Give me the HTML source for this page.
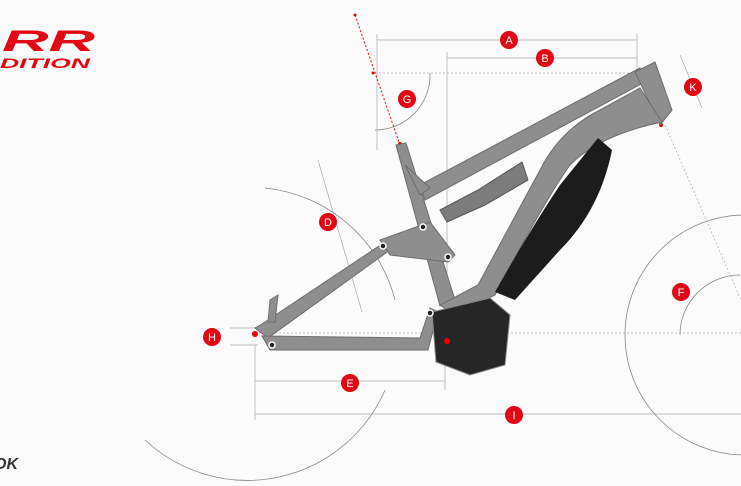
<!DOCTYPE html><html><head><style>body{margin:0;background:#fbfbfb}svg{display:block}</style></head><body>
<svg width="741" height="486" viewBox="0 0 741 486" xmlns="http://www.w3.org/2000/svg" font-family="Liberation Sans, sans-serif">
<rect width="741" height="486" fill="#fbfbfb"/>
<g fill="none" stroke="#888" stroke-width="0.8">
<path d="M265 188 A150 150 0 0 1 395 300"/>
<path d="M385 390 A150 150 0 0 1 145 440"/>
<circle cx="745" cy="335" r="120"/>
<path d="M680 335 A60 60 0 0 1 740 275"/>
<path d="M375 130 A55 55 0 0 0 430 73"/>
</g>
<g stroke="#aaa" stroke-width="0.7" fill="none">
<line x1="377" y1="40" x2="637" y2="40"/><line x1="377" y1="34" x2="377" y2="150"/><line x1="637" y1="34" x2="637" y2="72"/>
<line x1="447" y1="58" x2="637" y2="58"/><line x1="447" y1="52" x2="447" y2="300"/>
<line x1="375" y1="73" x2="640" y2="73" stroke-dasharray="2 2"/>
<line x1="255" y1="333" x2="741" y2="333" stroke-dasharray="2 2"/>
<line x1="255" y1="381" x2="445" y2="381"/><line x1="255" y1="414" x2="741" y2="414"/>
<line x1="255" y1="345" x2="255" y2="420"/><line x1="445" y1="350" x2="445" y2="390"/>
<line x1="318" y1="160" x2="362" y2="312"/>
<line x1="680" y1="55" x2="702" y2="108"/>
<line x1="665" y1="125" x2="741" y2="300" stroke-dasharray="2 2"/>
<line x1="230" y1="328" x2="258" y2="328"/><line x1="230" y1="345" x2="258" y2="345"/>
</g>
<line x1="355" y1="15" x2="400" y2="145" stroke="#e00" stroke-width="1" stroke-dasharray="2 2"/>
<g fill="#e00"><circle cx="355" cy="15" r="1.5"/><circle cx="373" cy="73" r="1.5"/><circle cx="400" cy="144" r="2"/><circle cx="638" cy="73" r="2"/><circle cx="661" cy="125" r="2"/></g>
<!-- frame -->
<g fill="#8e8e8e" stroke="#6d6d6d" stroke-width="1">
<polygon points="396,145 406,143 455,300 440,306"/>
<polygon points="420,185 640,68 645,82 425,200"/>
<polygon points="405,165 430,188 420,195"/>
<polygon points="635,72 655,62 672,110 660,125"/>
<path d="M640 88 L600 110 Q560 130 540 170 L478 285 L440 305 L455 315 L495 295 Q545 200 570 165 Q600 135 662 122 Z"/>
<polygon points="255,328 262,324 385,242 390,250 268,338"/>
<polygon points="262,336 420,338 430,308 438,312 428,350 270,350"/>
<polygon points="380,240 430,222 455,255 448,262 390,255"/>
<polygon points="270,300 278,295 275,322 268,322"/>
</g>
<path d="M598 138 L612 150 Q600 210 560 250 L515 300 L495 292 Q530 230 560 185 Z" fill="#1c1c1c"/>
<polygon points="432,312 490,298 510,315 505,365 470,375 436,362" fill="#262626" stroke="#888"/>
<polygon points="440,210 478,190 522,162 528,180 485,205 447,222" fill="#7c7c7c" stroke="#555"/>
<g fill="#222" stroke="#fff" stroke-width="1.5"><circle cx="383" cy="246" r="3"/><circle cx="448" cy="257" r="3"/><circle cx="272" cy="345" r="3"/><circle cx="430" cy="313" r="3"/><circle cx="423" cy="227" r="3"/></g>
<circle cx="447" cy="341" r="3" fill="#e00"/><circle cx="255" cy="334" r="3" fill="#e00"/>
<g fill="#e30613"><circle cx="509" cy="40" r="9"/><circle cx="545" cy="58" r="9"/><circle cx="407" cy="99" r="9"/><circle cx="693" cy="87" r="9"/><circle cx="328" cy="222" r="9"/><circle cx="681" cy="292" r="9"/><circle cx="212" cy="337" r="9"/><circle cx="350" cy="383" r="9"/><circle cx="514" cy="415" r="9"/></g>
<g fill="#fff" font-size="11" text-anchor="middle"><text x="509" y="44">A</text><text x="545" y="62">B</text><text x="407" y="103">G</text><text x="693" y="91">K</text><text x="328" y="226">D</text><text x="681" y="296">F</text><text x="212" y="341">H</text><text x="350" y="387">E</text><text x="514" y="419">I</text></g>
<text x="2" y="51" fill="#e30613" font-size="30" font-weight="bold" font-style="italic" textLength="93" lengthAdjust="spacingAndGlyphs">RR</text>
<text x="0" y="68" fill="#e30613" font-size="14" font-weight="bold" font-style="italic" textLength="90" lengthAdjust="spacingAndGlyphs">DITION</text>
<text x="-6" y="469" fill="#333" font-size="16" font-weight="bold" font-style="italic">OK</text>
</svg></body></html>
